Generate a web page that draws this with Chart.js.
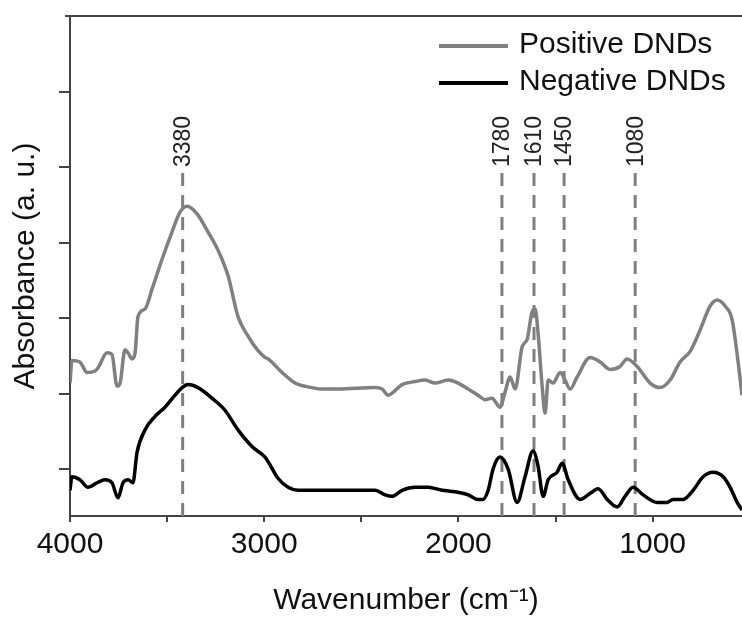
<!DOCTYPE html>
<html>
<head>
<meta charset="utf-8">
<script src="https://cdn.jsdelivr.net/npm/chart.js@4.4.1/dist/chart.umd.min.js"></script>
<style>
  html, body { margin: 0; padding: 0; background: #fff; }
  canvas { display: block; }
</style>
</head>
<body>
<canvas id="ftirChart" width="742" height="619"></canvas>
<script>
// wavenumbers (cm-1) and absorbance
const posWn = [4000, 3990, 3949, 3912, 3871, 3856, 3809, 3784, 3758, 3742, 3717, 3701, 3681, 3665, 3650, 3614, 3578, 3526, 3475, 3434, 3397, 3346, 3289, 3238, 3186, 3135, 3083, 3047, 2996, 2980, 2908, 2841, 2754, 2702, 2620, 2429, 2393, 2362, 2290, 2223, 2172, 2120, 2053, 2002, 1950, 1899, 1863, 1827, 1801, 1786, 1760, 1734, 1708, 1672, 1646, 1621, 1605, 1590, 1569, 1554, 1538, 1513, 1476, 1451, 1425, 1389, 1322, 1271, 1219, 1168, 1132, 1080, 1013, 962, 910, 859, 807, 756, 704, 668, 627, 591, 560, 540];
const posAbs = [1.07, 1.22, 1.21, 1.14, 1.15, 1.17, 1.27, 1.26, 1.05, 1.07, 1.29, 1.27, 1.23, 1.27, 1.51, 1.56, 1.69, 1.89, 2.07, 2.20, 2.24, 2.19, 2.07, 1.95, 1.78, 1.51, 1.38, 1.31, 1.24, 1.23, 1.14, 1.07, 1.04, 1.03, 1.03, 1.04, 1.03, 0.99, 1.06, 1.08, 1.09, 1.07, 1.09, 1.07, 1.03, 0.99, 0.96, 0.97, 0.93, 0.91, 1.01, 1.11, 1.03, 1.31, 1.36, 1.54, 1.56, 1.40, 1.05, 0.87, 1.09, 1.07, 1.14, 1.09, 1.03, 1.11, 1.24, 1.21, 1.16, 1.18, 1.23, 1.18, 1.07, 1.04, 1.09, 1.21, 1.28, 1.42, 1.58, 1.62, 1.58, 1.49, 1.21, 0.99];

const negWn = [4000, 3990, 3949, 3907, 3861, 3820, 3784, 3753, 3727, 3701, 3676, 3655, 3614, 3562, 3511, 3459, 3423, 3392, 3341, 3269, 3202, 3135, 3063, 2996, 2980, 2929, 2877, 2826, 2702, 2532, 2429, 2378, 2342, 2290, 2223, 2156, 2084, 2017, 1950, 1899, 1873, 1847, 1822, 1786, 1744, 1698, 1657, 1616, 1590, 1564, 1538, 1492, 1466, 1435, 1374, 1322, 1281, 1234, 1183, 1142, 1101, 1049, 977, 926, 895, 843, 792, 740, 689, 637, 601, 565, 540];
const negAbs = [0.36, 0.45, 0.43, 0.38, 0.41, 0.43, 0.41, 0.31, 0.41, 0.43, 0.41, 0.61, 0.76, 0.85, 0.91, 0.99, 1.04, 1.06, 1.04, 0.97, 0.89, 0.76, 0.65, 0.58, 0.55, 0.44, 0.38, 0.36, 0.36, 0.36, 0.36, 0.33, 0.32, 0.36, 0.38, 0.38, 0.36, 0.35, 0.33, 0.30, 0.30, 0.36, 0.50, 0.58, 0.50, 0.28, 0.45, 0.62, 0.52, 0.32, 0.43, 0.48, 0.54, 0.43, 0.30, 0.34, 0.37, 0.30, 0.25, 0.32, 0.38, 0.33, 0.28, 0.28, 0.30, 0.30, 0.36, 0.45, 0.48, 0.45, 0.38, 0.28, 0.23];

const seriesLabels = ["Positive DNDs", "Negative DNDs"];
const seriesColors = ["#808080", "#000000"];

// marked bands: where the dashed line sits and what it says
const bandWn = [3420, 1776, 1611, 1456, 1090];
const bandLabels = ["3380", "1780", "1610", "1450", "1080"];

const xTicks = [4000, 3500, 3000, 2500, 2000, 1500, 1000];
const xTickLabels = ["4000", "", "3000", "", "2000", "", "1000"];
const yTicks = [0.5, 1, 1.5, 2, 2.5, 3];

const FONT = "'Liberation Sans', Arial, sans-serif";
const AXIS = "#444";

const toPoints = (xs, ys) => xs.map((x, i) => ({ x: x, y: ys[i] }));

const extras = {
	id: "extras",
	beforeDatasetsDraw(chart) {
		const { ctx, chartArea, scales } = chart;
		const yTop = scales.y.getPixelForValue(2.46);
		ctx.save();
		ctx.strokeStyle = "#7f7f7f";
		ctx.lineWidth = 3;
		ctx.setLineDash([13, 9]);
		bandWn.forEach((wn) => {
			const x = scales.x.getPixelForValue(wn);
			ctx.beginPath();
			ctx.moveTo(x, yTop);
			ctx.lineTo(x, chartArea.bottom);
			ctx.stroke();
		});
		ctx.setLineDash([]);
		ctx.fillStyle = "#222";
		ctx.font = "23px " + FONT;
		ctx.textAlign = "left";
		ctx.textBaseline = "middle";
		bandWn.forEach((wn, i) => {
			const x = scales.x.getPixelForValue(wn);
			ctx.save();
			ctx.translate(x + 1, yTop - 6);
			ctx.rotate(-Math.PI / 2);
			ctx.fillText(bandLabels[i], 0, 0);
			ctx.restore();
		});
		ctx.restore();
	},
	afterDraw(chart) {
		const { ctx, chartArea } = chart;
		ctx.save();
		// top frame line
		ctx.strokeStyle = AXIS;
		ctx.lineWidth = 2;
		ctx.beginPath();
		ctx.moveTo(chartArea.left - 5, chartArea.top);
		ctx.lineTo(chartArea.right, chartArea.top);
		ctx.stroke();

		// legend
		ctx.font = "30px " + FONT;
		ctx.textAlign = "left";
		ctx.textBaseline = "middle";
		chart.data.datasets.forEach((ds, i) => {
			const y = 46 + i * 37;
			ctx.strokeStyle = ds.borderColor;
			ctx.lineWidth = 4;
			ctx.beginPath();
			ctx.moveTo(439, y);
			ctx.lineTo(508, y);
			ctx.stroke();
			ctx.fillStyle = "#111";
			ctx.fillText(ds.label, 519, y - 1);
		});
		ctx.restore();
	},
};

new Chart(document.getElementById("ftirChart"), {
	type: "line",
	data: {
		datasets: [
			{
				label: seriesLabels[0],
				data: toPoints(posWn, posAbs),
				borderColor: seriesColors[0],
				borderWidth: 3.5,
				pointRadius: 0,
				cubicInterpolationMode: "monotone",
			},
			{
				label: seriesLabels[1],
				data: toPoints(negWn, negAbs),
				borderColor: seriesColors[1],
				borderWidth: 3.5,
				pointRadius: 0,
				cubicInterpolationMode: "monotone",
			},
		],
	},
	options: {
		responsive: false,
		animation: false,
		layout: { padding: { top: 16, left: 0, right: 0, bottom: 0 } },
		scales: {
			x: {
				type: "linear",
				reverse: true,
				min: 540,
				max: 4000,
				afterBuildTicks: (scale) => {
					scale.ticks = xTicks.map((v) => ({ value: v }));
				},
				afterFit: (scale) => {
					scale.height = 103;
				},
				ticks: {
					autoSkip: false,
					maxRotation: 0,
					padding: 5,
					color: "#111",
					font: { family: FONT, size: 30 },
					callback: (value, index) => xTickLabels[index],
				},
				grid: {
					drawOnChartArea: false,
					drawTicks: true,
					tickLength: 6,
					color: AXIS,
					lineWidth: 2,
				},
				border: { display: true, color: AXIS, width: 2 },
				title: {
					display: true,
					text: "Wavenumber (cm\u207B\u00B9)",
					color: "#111",
					font: { family: FONT, size: 30 },
					padding: { top: 0, bottom: 0 },
				},
			},
			y: {
				type: "linear",
				min: 0.19,
				max: 3.5,
				afterBuildTicks: (scale) => {
					scale.ticks = yTicks.map((v) => ({ value: v }));
				},
				afterFit: (scale) => {
					scale.width = 70;
				},
				ticks: { display: false },
				grid: {
					drawOnChartArea: false,
					drawTicks: true,
					tickLength: 11,
					color: AXIS,
					lineWidth: 2,
				},
				border: { display: true, color: AXIS, width: 2 },
				title: {
					display: true,
					text: "Absorbance (a. u.)",
					color: "#111",
					font: { family: FONT, size: 30 },
					padding: { top: 8, bottom: 0 },
				},
			},
		},
		plugins: {
			legend: { display: false },
			tooltip: { enabled: false },
		},
	},
	plugins: [extras],
});
</script>
</body>
</html>
